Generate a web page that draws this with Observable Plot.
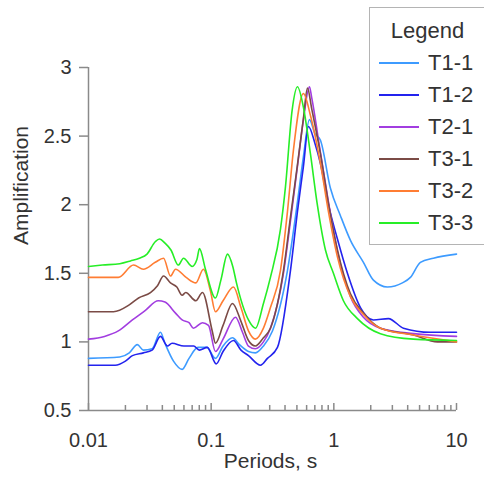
<!DOCTYPE html>
<html><head><meta charset="utf-8">
<script src="https://cdn.jsdelivr.net/npm/d3@7"></script>
<script src="https://cdn.jsdelivr.net/npm/@observablehq/plot@0.6"></script>
<style>
html,body{margin:0;padding:0;background:#fff;}
#wrap{position:relative;width:484px;height:480px;overflow:hidden;font-family:"Liberation Sans",Arial,sans-serif;color:#333;}
#legend{position:absolute;left:369px;top:7px;width:130px;height:238px;border:1px solid #b4b4b4;background:#fff;box-sizing:border-box;}
#legend .title{position:absolute;left:0;width:115px;top:10px;text-align:center;font-size:22px;line-height:26px;}
#legend .item{position:absolute;left:0;height:26px;line-height:26px;font-size:22px;}
#legend .sw{position:absolute;left:9px;top:12px;width:40px;height:0;border-top:2px solid;}
#legend .lb{position:absolute;left:58px;top:0;white-space:nowrap;}
</style></head><body>
<div id="wrap"><div id="chart"></div><div id="legend"></div></div>
<script>
const seriesNames = ["T1-1","T1-2","T2-1","T3-1","T3-2","T3-3"];
const seriesColors = ["#3d9bff","#2323ee","#a23de0","#7b4b46","#ff7d33","#26ee26"];
const yTicks = [0.5,1,1.5,2,2.5,3];
const xMajorTicks = [0.01,0.1,1,10];
const xMinorTicks = [0.02,0.03,0.04,0.05,0.06,0.07,0.08,0.09,0.2,0.3,0.4,0.5,0.6,0.7,0.8,0.9,2,3,4,5,6,7,8,9];

// [period (s), amplification]
const T1_1 = [[0.01,0.88],[0.018,0.89],[0.0215,0.92],[0.025,0.98],[0.028,0.94],[0.033,0.95],[0.0386,1.07],[0.042,0.99],[0.0493,0.86],[0.058,0.80],[0.066,0.88],[0.078,0.96],[0.092,0.96],[0.1084,0.88],[0.125,0.97],[0.1492,1.03],[0.17,0.98],[0.2014,0.93],[0.2296,0.92],[0.2668,0.97],[0.3159,1.08],[0.4187,1.52],[0.5051,2.02],[0.5651,2.35],[0.6326,2.62],[0.70,2.52],[0.778,2.47],[0.9382,2.12],[1.132,1.92],[1.366,1.74],[1.743,1.58],[2.102,1.45],[2.734,1.40],[3.624,1.43],[4.21,1.47],[5.079,1.58],[6.481,1.61],[10,1.64]];
const T1_2 = [[0.01,0.83],[0.0165,0.83],[0.02,0.86],[0.0228,0.90],[0.028,0.92],[0.033,0.94],[0.0386,1.04],[0.044,0.97],[0.048,0.99],[0.06,0.97],[0.072,0.97],[0.08,0.94],[0.093,0.96],[0.11,0.84],[0.125,0.93],[0.152,1.01],[0.175,0.94],[0.2014,0.90],[0.2522,0.83],[0.2876,0.88],[0.347,0.96],[0.443,1.52],[0.5051,1.95],[0.5651,2.28],[0.6209,2.57],[0.70,2.45],[0.778,2.30],[0.9036,2.00],[1.07,1.75],[1.291,1.50],[1.648,1.25],[2.102,1.16],[2.786,1.17],[3.692,1.10],[6.128,1.07],[10,1.07]];
const T2_1 = [[0.01,1.02],[0.0135,1.04],[0.0175,1.08],[0.0228,1.16],[0.0291,1.23],[0.037,1.30],[0.042,1.29],[0.0512,1.21],[0.058,1.16],[0.066,1.14],[0.0717,1.10],[0.0849,1.14],[0.0951,1.12],[0.1084,0.93],[0.125,1.02],[0.158,1.18],[0.18,1.07],[0.2014,0.97],[0.2296,0.95],[0.2668,1.00],[0.3042,1.10],[0.3884,1.50],[0.443,1.88],[0.5051,2.28],[0.5651,2.62],[0.6326,2.86],[0.66,2.78],[0.778,2.38],[0.9036,2.02],[1.07,1.66],[1.366,1.33],[1.743,1.18],[2.398,1.10],[4.454,1.06],[10,1.04]];
const T3_1 = [[0.01,1.22],[0.016,1.22],[0.0215,1.27],[0.0256,1.32],[0.032,1.36],[0.0365,1.41],[0.0409,1.48],[0.0466,1.43],[0.0525,1.40],[0.058,1.34],[0.062,1.36],[0.075,1.30],[0.0849,1.36],[0.102,1.08],[0.1084,0.99],[0.125,1.12],[0.1492,1.28],[0.175,1.15],[0.2014,1.01],[0.2296,0.97],[0.2668,1.03],[0.3042,1.10],[0.3884,1.52],[0.443,1.91],[0.5051,2.29],[0.5651,2.63],[0.6093,2.85],[0.66,2.70],[0.778,2.37],[0.9036,2.01],[1.07,1.67],[1.366,1.35],[1.743,1.21],[2.398,1.10],[4.454,1.05],[7,1.00],[10,1.00]];
const T3_2 = [[0.01,1.47],[0.0175,1.47],[0.0233,1.56],[0.028,1.53],[0.035,1.58],[0.0409,1.61],[0.0466,1.48],[0.0512,1.53],[0.0625,1.47],[0.075,1.43],[0.0865,1.53],[0.0987,1.37],[0.1084,1.22],[0.125,1.30],[0.152,1.40],[0.175,1.25],[0.2014,1.08],[0.2296,1.02],[0.2668,1.10],[0.3042,1.25],[0.3671,1.52],[0.4187,1.95],[0.4687,2.40],[0.5651,2.81],[0.6447,2.65],[0.778,2.30],[0.9036,1.95],[1.07,1.62],[1.366,1.33],[1.743,1.20],[2.398,1.10],[4.454,1.05],[10,1.00]];
const T3_3 = [[0.01,1.55],[0.013,1.56],[0.018,1.57],[0.022,1.59],[0.026,1.61],[0.03,1.64],[0.035,1.73],[0.038,1.75],[0.042,1.72],[0.047,1.67],[0.054,1.56],[0.0595,1.61],[0.07,1.55],[0.0765,1.60],[0.0803,1.68],[0.0898,1.53],[0.1084,1.32],[0.12,1.45],[0.1358,1.64],[0.15,1.55],[0.1608,1.43],[0.2014,1.16],[0.2296,1.10],[0.2668,1.28],[0.3042,1.47],[0.3671,1.82],[0.4033,2.13],[0.4573,2.69],[0.5051,2.86],[0.5651,2.71],[0.6447,2.37],[0.7309,2.01],[0.8543,1.67],[0.9925,1.50],[1.197,1.30],[1.557,1.17],[2.398,1.06],[4.454,1.02],[10,1.01]];

const seriesData = [T1_1,T1_2,T2_1,T3_1,T3_2,T3_3];
const rows = seriesData.flatMap((arr,i)=>arr.map(([p,a])=>({s:seriesNames[i],p,a})));

const H = 480, mT = 67, mB = 70;
const frameH = H - mT - mB;

const chart = Plot.plot({
  width:484, height:H, marginLeft:88, marginRight:28, marginTop:mT, marginBottom:mB,
  x:{type:"log", domain:[0.01,10]},
  y:{domain:[0.5,3]},
  color:{domain:seriesNames, range:seriesColors},
  style:{fontFamily:"'Liberation Sans', Arial, sans-serif", fontSize:"20px", color:"#333", background:"white"},
  marks:[
    Plot.ruleX([0.01], {stroke:"#8a8a8a", strokeWidth:1.5}),
    Plot.ruleY([0.5], {stroke:"#8a8a8a", strokeWidth:1.5}),
    Plot.axisY({ticks:yTicks, tickSize:9, tickPadding:8, tickFormat:d=>String(d), stroke:"#8a8a8a", strokeWidth:1.5, label:null}),
    Plot.tickX(xMajorTicks, {x:d=>d, insetTop:frameH-7, stroke:"#8a8a8a", strokeWidth:1.5}),
    Plot.tickX(xMinorTicks, {x:d=>d, insetTop:frameH-5, stroke:"#8a8a8a", strokeWidth:1.5}),
    Plot.axisX({ticks:xMajorTicks, tickSize:0, tickPadding:22, tickFormat:d=>String(d), label:null}),
    Plot.line(rows, {x:"p", y:"a", z:"s", stroke:"s", strokeWidth:1.6, curve:"monotone-x"}),
    Plot.text(["Amplification"], {frameAnchor:"left", rotate:-90, dx:-67, dy:6, fontSize:21, fill:"#333"}),
    Plot.text(["Periods, s"], {frameAnchor:"bottom", dy:57, dx:-2, fontSize:21, fill:"#333"})
  ]
});
document.getElementById("chart").appendChild(chart);

const lg = document.getElementById("legend");
const t = document.createElement("div"); t.className="title"; t.textContent="Legend"; lg.appendChild(t);
seriesNames.forEach((n,i)=>{
  const it = document.createElement("div"); it.className="item"; it.style.top=(42+32*i)+"px";
  const sw = document.createElement("div"); sw.className="sw"; sw.style.borderColor=seriesColors[i];
  const lb = document.createElement("div"); lb.className="lb"; lb.textContent=n;
  it.appendChild(sw); it.appendChild(lb); lg.appendChild(it);
});
</script></body></html>
